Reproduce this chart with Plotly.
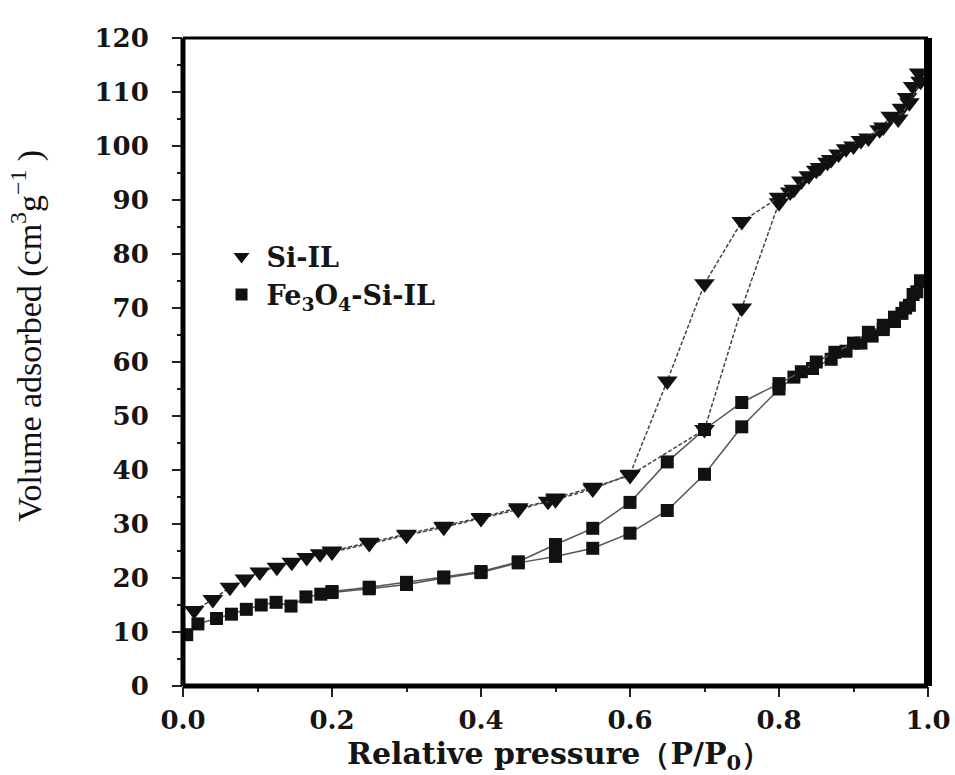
import plotly.graph_objects as go

# ---------------- data ----------------
si_ads_p = [0.015, 0.04, 0.063, 0.083, 0.103, 0.126, 0.146, 0.166, 0.184, 0.2, 0.25, 0.3, 0.35, 0.4, 0.45,
            0.49, 0.5, 0.55, 0.6, 0.7, 0.75, 0.8, 0.815, 0.83, 0.85, 0.865, 0.88, 0.9, 0.92, 0.935, 0.95,
            0.965, 0.972, 0.98, 0.988]
si_ads_v = [14, 16, 18.3, 19.8, 21.1, 22, 22.9, 23.8, 24.5, 25, 26.6, 28.1, 29.6, 31.2, 33,
            34.2, 34.8, 36.8, 39, 47.5, 70, 89.5, 91.5, 93.5, 95.5, 97, 98.5, 100, 101.5, 103, 105.5,
            107, 109, 111, 113.5]
si_des_p = [0.99, 0.975, 0.96, 0.94, 0.91, 0.89, 0.87, 0.855, 0.84, 0.82, 0.8, 0.75, 0.7, 0.65, 0.6,
            0.55, 0.5, 0.45, 0.4, 0.35, 0.3, 0.25, 0.2]
si_des_v = [112, 108, 105, 103.5, 101, 99.5, 97.5, 96, 94.5, 92, 90.5, 86, 74.5, 56.5, 39.2,
            36.5, 34.5, 32.7, 31, 29.4, 27.9, 26.4, 24.8]

fe_ads_p = [0.005, 0.02, 0.045, 0.065, 0.085, 0.105, 0.125, 0.145, 0.165, 0.185, 0.2, 0.25, 0.3, 0.35,
            0.4, 0.45, 0.5, 0.55, 0.6, 0.65, 0.7, 0.75, 0.8, 0.82, 0.845, 0.87, 0.89, 0.91, 0.925, 0.94,
            0.955, 0.965, 0.975, 0.985, 0.99]
fe_ads_v = [9.5, 11.5, 12.5, 13.3, 14.2, 15, 15.5, 14.8, 16.5, 17, 17.3, 18, 18.8, 20,
            21, 22.8, 24, 25.5, 28.3, 32.5, 39.2, 48, 55, 57.2, 58.8, 60.5, 62, 63.5, 64.8, 66,
            67.5, 69, 70.5, 73, 75]
fe_des_p = [0.99, 0.98, 0.97, 0.955, 0.94, 0.92, 0.9, 0.875, 0.85, 0.83, 0.8, 0.75, 0.7, 0.65, 0.6,
            0.55, 0.5, 0.45, 0.4, 0.35, 0.3, 0.25, 0.2]
fe_des_v = [75, 72.5, 70, 68.3, 66.8, 65.5, 63.5, 61.8, 60, 58.2, 56, 52.5, 47.5, 41.5, 34,
            29.2, 26.2, 23, 21.2, 20.2, 19.2, 18.3, 17.5]

legend_names = ["Si-IL", "Fe<sub>3</sub>O<sub>4</sub>-Si-IL"]
x_ticks = [0.0, 0.2, 0.4, 0.6, 0.8, 1.0]
x_tick_text = ["0.0", "0.2", "0.4", "0.6", "0.8", "1.0"]
y_ticks = list(range(0, 121, 10))

# ---------------- figure ----------------
SERIF = "Liberation Serif"
WIDE = "DejaVu Serif"
fig = go.Figure()

tri = dict(symbol="triangle-down", size=18, color="#111111")
sq = dict(symbol="square", size=13, color="#111111")
tri_line = dict(color="#444444", width=1.5, dash="4px,2px")
sq_line = dict(color="#555555", width=1.5)

fig.add_trace(go.Scatter(x=si_ads_p, y=si_ads_v, mode="lines+markers", marker=tri, line=tri_line,
                         showlegend=False))
fig.add_trace(go.Scatter(x=si_des_p, y=si_des_v, mode="lines+markers", marker=tri, line=tri_line,
                         showlegend=False))
fig.add_trace(go.Scatter(x=fe_ads_p, y=fe_ads_v, mode="lines+markers", marker=sq, line=sq_line,
                         showlegend=False))
fig.add_trace(go.Scatter(x=fe_des_p, y=fe_des_v, mode="lines+markers", marker=sq, line=sq_line,
                         showlegend=False))

# legend-only entries
fig.add_trace(go.Scatter(x=[None], y=[None], mode="markers", name=legend_names[0],
                         marker=dict(symbol="triangle-down", size=14, color="#111111")))
fig.add_trace(go.Scatter(x=[None], y=[None], mode="markers", name=legend_names[1],
                         marker=dict(symbol="square", size=12, color="#111111")))

tickfont = dict(family=WIDE, size=26, color="#151515", weight="bold")

fig.update_xaxes(range=[0, 1], tickvals=x_ticks, ticktext=x_tick_text, ticks="outside",
                 ticklen=10, tickwidth=2, tickcolor="#222", showgrid=False, zeroline=False,
                 showline=False, tickfont=tickfont, ticklabelstandoff=1, automargin=False,
                 minor=dict(dtick=0.1, ticks="outside", ticklen=5, tickwidth=2, tickcolor="#222",
                            showgrid=False))
fig.update_yaxes(range=[0, 120], tickvals=y_ticks, ticks="outside", ticklen=10, tickwidth=2,
                 tickcolor="#222", showgrid=False, zeroline=False, showline=False,
                 tickfont=tickfont, ticklabelstandoff=18, automargin=False,
                 minor=dict(dtick=5, ticks="outside", ticklen=5, tickwidth=2, tickcolor="#222",
                            showgrid=False))

# frame
frame = [
    dict(x0=0, x1=0, y0=0, y1=1, w=5),
    dict(x0=0, x1=1, y0=0, y1=0, w=5),
    dict(x0=1, x1=1, y0=0, y1=1, w=8),
    dict(x0=0, x1=1, y0=1, y1=1, w=3),
]
for f in frame:
    fig.add_shape(type="line", xref="paper", yref="paper", x0=f["x0"], x1=f["x1"], y0=f["y0"],
                  y1=f["y1"], line=dict(color="#000000", width=f["w"]), layer="above")

fig.add_annotation(text="Volume adsorbed (cm<sup>3</sup>g<sup>\u22121</sup> )", textangle=-90,
                   xref="paper", yref="paper", x=-0.21, y=0.54, xanchor="center", yanchor="middle",
                   showarrow=False, font=dict(family=SERIF, size=34, color="#111111"))
fig.add_annotation(text="<b>Relative pressure\uff08P/P<sub>0</sub>\uff09</b>",
                   xref="paper", yref="paper", x=0.505, y=-0.108, xanchor="center", yanchor="middle",
                   showarrow=False, font=dict(family=WIDE, size=30, color="#151515"))

fig.update_layout(
    width=955, height=775,
    margin=dict(l=183, r=27, t=38, b=89),
    paper_bgcolor="white", plot_bgcolor="white",
    legend=dict(x=0.045, y=0.7, xanchor="left", yanchor="top", bgcolor="rgba(0,0,0,0)",
                font=dict(family=WIDE, size=27, color="#151515", weight="bold"),
                tracegroupgap=0, itemsizing="trace", itemwidth=40),
)

fig.write_html("out.html")
